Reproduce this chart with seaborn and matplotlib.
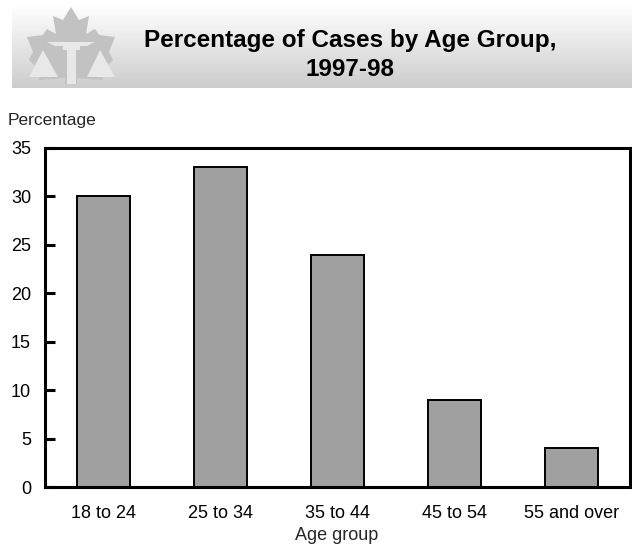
import numpy as np
import pandas as pd
import matplotlib
matplotlib.use("Agg")
import matplotlib.pyplot as plt
from matplotlib.patches import Polygon, Rectangle
import seaborn as sns

# Data
age_groups = ["18 to 24", "25 to 34", "35 to 44", "45 to 54", "55 and over"]
percentages = [30, 33, 24, 9, 4]
y_ticks = [0, 5, 10, 15, 20, 25, 30, 35]

title_text = "Percentage of Cases by Age Group,\n1997-98"
y_label = "Percentage"
x_label = "Age group"

sns.set_theme(style="white")
plt.rcParams["font.family"] = ["Liberation Sans", "DejaVu Sans"]

W, H = 632, 547
fig = plt.figure(figsize=(W / 100, H / 100), dpi=100)
fig.patch.set_facecolor("white")

# ---- Header banner with vertical gradient and emblem ----
hx0, hy0, hx1, hy1 = 12, 4, 632, 88
hax = fig.add_axes([hx0 / W, 1 - hy1 / H, (hx1 - hx0) / W, (hy1 - hy0) / H])
hax.set_xlim(hx0, hx1)
hax.set_ylim(hy1, hy0)
grad = np.linspace(1.0, 0.80, 256).reshape(-1, 1)
hax.imshow(grad, cmap="gray", vmin=0, vmax=1, aspect="auto",
           extent=[hx0, hx1, hy1, hy0], interpolation="bicubic")
hax.axis("off")

# Emblem: maple leaf with scales of justice
cx = 71
right = [(0, 7), (8, 20), (18, 16), (15, 34), (24, 29), (28, 35), (44, 37),
         (38, 52), (42, 60), (30, 72), (32, 80), (6, 78), (6, 84)]
leaf = right + [(-dx, y) for dx, y in reversed(right)]
hax.add_patch(Polygon([(cx + dx, y) for dx, y in leaf], closed=True,
                      facecolor="#c2c2c2", edgecolor="none", zorder=2))
light = "#e8e8e8"
hax.add_patch(Polygon([(cx - 28, 50), (cx - 42, 77), (cx - 13, 77)],
                      facecolor=light, edgecolor="none", zorder=3))
hax.add_patch(Polygon([(cx + 29, 50), (cx + 16, 77), (cx + 44, 77)],
                      facecolor=light, edgecolor="none", zorder=3))
hax.add_patch(Rectangle((cx - 4, 49), 9, 35, facecolor=light,
                        edgecolor="none", zorder=3))
hax.add_patch(Polygon([(cx - 24, 42), (cx + 24, 42), (cx + 16, 46),
                       (cx - 16, 46)], facecolor=light, edgecolor="none",
                      zorder=3))
hax.add_patch(Rectangle((cx - 8, 46), 17, 4, facecolor=light,
                        edgecolor="none", zorder=3))

hax.text(350, 55, title_text, ha="center", va="center", fontsize=17.5,
         fontweight="bold", color="black", linespacing=1.3, zorder=4)

# ---- Main bar chart ----
ax_l, ax_r, ax_t, ax_b = 45, 630, 148, 487
ax = fig.add_axes([ax_l / W, 1 - ax_b / H, (ax_r - ax_l) / W, (ax_b - ax_t) / H])

df = pd.DataFrame({"age": age_groups, "pct": percentages})
sns.barplot(data=df, x="age", y="pct", color="#a0a0a0", saturation=1,
            edgecolor="black", linewidth=1.4, width=0.45, ax=ax)

ax.set_ylim(0, 35)
ax.set_xlim(-0.5, len(age_groups) - 0.5)
ax.set_yticks(y_ticks)
ax.set_xlabel("")
ax.set_ylabel("")
for s in ax.spines.values():
    s.set_visible(True)
    s.set_linewidth(2.2)
    s.set_color("black")
ax.tick_params(axis="y", direction="in", length=7, width=2.2, pad=10,
               labelsize=13, colors="black", left=True)
ax.tick_params(axis="x", length=0, pad=13, labelsize=13, colors="black")
ax.set_facecolor("white")

fig.text(8 / W, 1 - 120 / H, y_label, ha="left", va="center", fontsize=12.5)
fig.text(337 / W, 1 - 535 / H, x_label, ha="center", va="center", fontsize=13)

fig.savefig("out.png", dpi=100)
